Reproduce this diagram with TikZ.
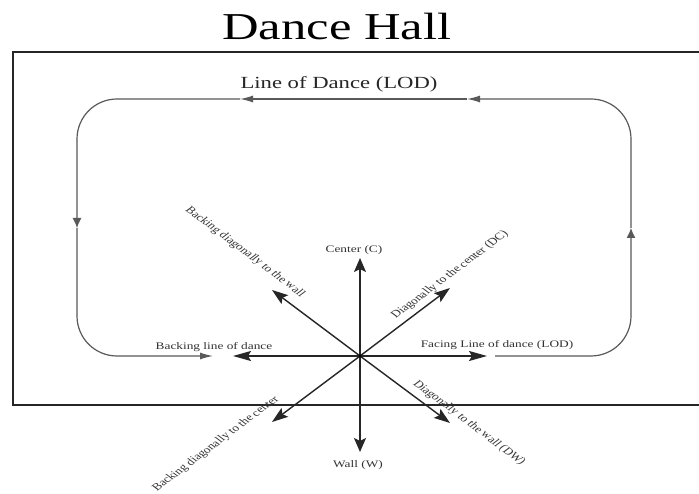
\documentclass[tikz,border=0pt]{standalone}
\usepackage{fontspec}
\setmainfont{Liberation Serif}
\usetikzlibrary{arrows.meta}
\begin{document}
\begin{tikzpicture}[x=1pt,y=-1pt,
  hall/.style={line width=2pt, draw=black!85},
  lodline/.style={line width=1.2pt, draw=black!65, rounded corners=40pt},
  hv/.style={-{Latex[length=13pt,width=7pt]}},
  vv/.style={-{Latex[length=10pt,width=9pt]}},
  dirline/.style={line width=1.4pt, draw=black!85},
  bigh/.style={-{Stealth[length=18pt,width=10pt,inset=3pt]}},
  bigv/.style={-{Stealth[length=14pt,width=12pt,inset=3pt]}},
  bigd/.style={-{Stealth[length=16pt,width=11pt,inset=3pt]}},
  lbl/.style={font=\fontsize{10}{12}\selectfont, text=black!80, xscale=1.333, inner sep=0pt},
]
\useasboundingbox (0,0) rectangle (699,494);
\fill[white] (0,0) rectangle (699,494);

% title and hall
\node[font=\fontsize{38}{40}\selectfont, xscale=1.333, anchor=base, inner sep=0pt] (title) at (337,40) {Dance Hall};
\draw[hall] (712,52) -- (13,52) -- (13,405) -- (712,405);

% line of dance loop
\coordinate (b2) at (495,356);
\coordinate (r1) at (631,228);
\coordinate (t1) at (467,99);
\coordinate (t2) at (240,99);
\coordinate (l1) at (77,228);
\coordinate (b1) at (213,356);
\draw[lodline, vv] (b2) -- (631,356) -- (r1);
\draw[lodline, hv] (r1) -- (631,99) -- (t1);
\draw[lodline, hv] (t1) -- (t2);
\draw[lodline, vv] (t2) -- (77,99) -- (l1);
\draw[lodline, hv] (l1) -- (77,356) -- (b1);
\node[font=\fontsize{17}{20}\selectfont, xscale=1.333, anchor=base, inner sep=0pt, text=black!85] (lod) at (339,89) {Line of Dance (LOD)};

% directions
\coordinate (C) at (360,356);
\coordinate (up) at (360,258);
\coordinate (dn) at (360,452);
\coordinate (rt) at (487,356);
\coordinate (lt) at (233,356);
\coordinate (dc) at (450,288);
\coordinate (bw) at (272,290);
\coordinate (bc) at (272,422);
\coordinate (dw) at (450,423);
\draw[dirline, bigv] (C) -- (up);
\draw[dirline, bigv] (C) -- (dn);
\draw[dirline, bigh] (C) -- (rt);
\draw[dirline, bigh] (C) -- (lt);
\draw[dirline, bigd] (C) -- (dc);
\draw[dirline, bigd] (C) -- (bw);
\draw[dirline, bigd] (C) -- (bc);
\draw[dirline, bigd] (C) -- (dw);
\fill[black] (C) circle (1.6pt);

% labels
\node[lbl, anchor=base] (lc) at (354,253) {Center (C)};
\node[lbl, anchor=base] (lw) at (358,467) {Wall (W)};
\node[lbl, anchor=base] (lf) at (497,348) {Facing Line of dance (LOD)};
\node[lbl, anchor=base] (lb) at (214,349) {Backing line of dance};
\node[lbl, rotate=45] (ldc) at (450,275) {Diagonally to the center (DC)};
\node[lbl, rotate=-45] (lbw) at (245,252) {Backing diagonally to the wall};
\node[lbl, rotate=45] (lbc) at (216,444) {Backing diagonally to the center};
\node[lbl, rotate=-45] (ldw) at (469,423) {Diagonally to the wall (DW)};
\end{tikzpicture}
\end{document}
